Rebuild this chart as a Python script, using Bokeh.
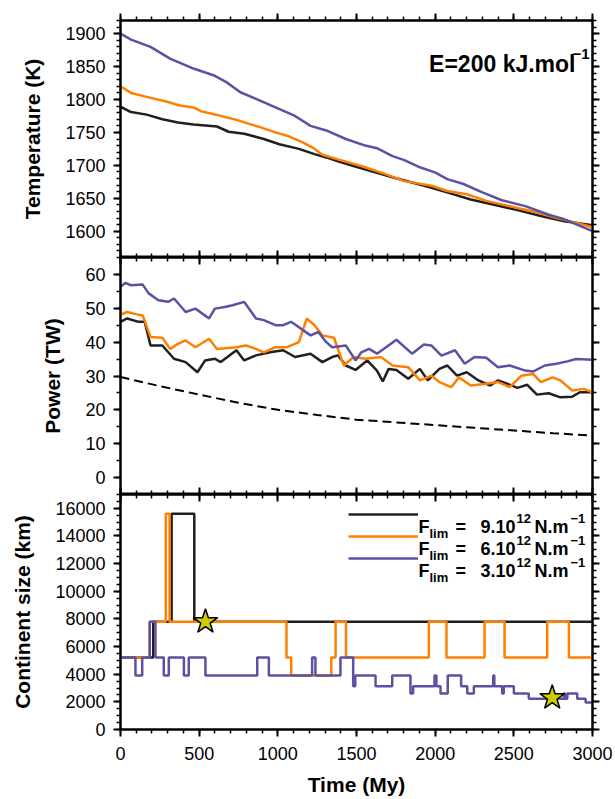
from bokeh.plotting import figure
from bokeh.models import LinearAxis, SingleIntervalTicker, Range1d, Label, Legend, LegendItem
from bokeh.layouts import column
from bokeh.embed import file_html
from bokeh.resources import INLINE

FONT = "Liberation Sans"
BLACK = "#231f20"
ORANGE = "#ff7f00"
PURPLE = "#5b52a3"
STAR = "#cccc00"

# --- temperature (K) ---
temp_black_t = [0, 67, 166, 266, 365, 464, 613, 687, 787, 911, 1010, 1134, 1233, 1308, 1382,
                1481, 1580, 1729, 1853, 1977, 2102, 2226, 2374, 2523, 2672, 2821, 3000]
temp_black = [1789, 1781, 1777, 1770, 1765, 1762, 1759, 1751, 1748, 1740, 1732, 1725, 1717, 1712, 1706,
              1699, 1692, 1682, 1674, 1666, 1657, 1648, 1640, 1632, 1623, 1615, 1609]
temp_orange_t = [0, 67, 166, 290, 377, 464, 514, 588, 737, 886, 985, 1059, 1159, 1221, 1283, 1382,
                 1531, 1680, 1804, 1977, 2077, 2201, 2325, 2474, 2622, 2771, 2895, 3000]
temp_orange = [1820, 1810, 1804, 1797, 1791, 1788, 1782, 1778, 1769, 1758, 1750, 1745, 1735, 1727, 1716, 1709,
               1699, 1687, 1676, 1669, 1661, 1656, 1646, 1638, 1630, 1620, 1613, 1606]
temp_purple_t = [0, 67, 191, 315, 464, 600, 675, 762, 861, 985, 1109, 1208, 1308, 1432, 1556, 1630,
                 1729, 1804, 1903, 2002, 2077, 2176, 2300, 2424, 2573, 2722, 2821, 2920, 3000]
temp_purple = [1900, 1891, 1880, 1862, 1847, 1836, 1826, 1811, 1801, 1788, 1775, 1760, 1753, 1740, 1730, 1726,
               1714, 1708, 1697, 1689, 1679, 1672, 1659, 1647, 1638, 1625, 1618, 1608, 1600]

# --- power (TW) ---
pow_black_t = [0, 42, 116, 154, 191, 266, 340, 414, 489, 538, 600, 637, 737, 786, 861, 960, 1034, 1109,
               1208, 1283, 1345, 1382, 1432, 1494, 1568, 1630, 1667, 1704, 1754, 1829, 1903, 1953, 2027,
               2077, 2139, 2201, 2275, 2350, 2399, 2449, 2523, 2585, 2647, 2722, 2796, 2871, 2920, 3000]
pow_black = [46, 47, 46, 46, 39, 39, 35.1, 34.1, 31.1, 34.6, 35.1, 34.1, 37.6, 34.6, 36.1, 37.1, 37.6, 35.6,
             36.6, 34.1, 35.6, 36.1, 33.1, 31.8, 34.6, 31.6, 28.4, 32.1, 31.8, 29.2, 32.1, 28.7, 32.1,
             33.1, 30.1, 31.1, 28.7, 27.2, 28.7, 27.9, 26.5, 27.4, 24.5, 24.9, 23.7, 23.9, 25.2, 25.2]
pow_orange_t = [0, 42, 104, 141, 191, 266, 315, 365, 414, 476, 563, 613, 737, 799, 861, 911, 985, 1059,
                1134, 1184, 1233, 1283, 1357, 1419, 1481, 1556, 1655, 1729, 1829, 1903, 1977, 2027, 2102,
                2151, 2226, 2325, 2399, 2474, 2548, 2622, 2672, 2746, 2796, 2871, 2945, 3000]
pow_orange = [48.1, 48.9, 48.2, 47.9, 41.5, 41.3, 38, 39.5, 40.5, 38.5, 41, 38, 38.5, 39, 38, 37, 38.5, 38.5,
              40, 47, 45, 42, 41.3, 33.1, 35.6, 35.1, 35.6, 33.1, 32.6, 28.7, 30.1, 28.2, 26.7,
              29.6, 27.2, 27.7, 28.2, 26.7, 30.1, 30.6, 28.2, 29.6, 28.7, 25.7, 26.2, 25.2]
pow_purple_t = [0, 30, 67, 141, 179, 241, 303, 340, 414, 476, 563, 600, 662, 712, 786, 861, 911, 985, 1034,
                1084, 1208, 1258, 1308, 1345, 1432, 1494, 1531, 1580, 1630, 1754, 1853, 1928, 1977, 2040,
                2126, 2188, 2250, 2325, 2399, 2474, 2573, 2622, 2697, 2771, 2846, 2895, 3000]
pow_purple = [56.3, 57.5, 56.8, 57, 54.4, 52.4, 51.9, 52.9, 48.9, 49.9, 47, 49.9, 50.4, 50.9, 51.9, 47, 46.5, 45, 45,
              46, 42, 43, 40, 38.5, 39, 34.6, 37, 38, 36.6, 40.7, 36.6, 39.3, 39, 36,
              37.6, 33.6, 35.6, 35.4, 32.6, 33.1, 31.6, 31.3, 33.1, 33.6, 34.4, 35, 34.8]
pow_ref_t = [0, 250, 500, 750, 1000, 1250, 1500, 1750, 2000, 2250, 2500, 2750, 3000]
pow_ref = [29.7, 27.0, 24.5, 22.1, 20.0, 18.5, 17.1, 16.3, 15.5, 14.7, 13.9, 13.1, 12.4]

# --- continent size (km), steps ---
size_black_t = [0, 208, 325, 469, 3000]
size_black = [5200, 7800, 15600, 7800, 7800]
size_orange_t = [0, 185, 288, 312, 1055, 1085, 1340, 1367, 1433, 1960, 2072, 2314, 2441, 2712, 2850, 3000]
size_orange = [5200, 7800, 15600, 7800, 5200, 3900, 5200, 7800, 5200, 7800, 5200, 7800, 5200, 7800, 5200, 5200]
size_purple_t = [0, 95, 138, 186, 222, 275, 307, 403, 434, 540, 869, 943, 1218, 1239, 1398, 1479, 1492,
                 1621, 1727, 1843, 1860, 1996, 2008, 2034, 2080, 2165, 2204, 2246, 2369, 2376, 2426, 2436,
                 2500, 2595, 2818, 2826, 2840, 2903, 2956, 3000]
size_purple = [5200, 3900, 5200, 7800, 5200, 3900, 5200, 3900, 5200, 3900, 5200, 3900, 5200, 3900, 5200, 3120, 3900,
               3120, 3900, 2600, 3120, 3900, 3120, 2600, 3900, 3120, 2600, 3120, 3900, 3120, 2600, 3120,
               2600, 2229, 2600, 2229, 2600, 2229, 1950, 1950]
star_t = [540, 2744]
star_size = [7800, 2300]

legend_values = ["9.10", "6.10", "3.10"]


def style_axis(ax, labels=True, inward=False):
    ax.axis_line_width = 2
    ax.axis_line_color = "black"
    ax.major_tick_line_width = 2
    ax.minor_tick_line_width = 1.5
    ax.major_tick_line_color = "black"
    ax.minor_tick_line_color = "black"
    if inward:
        ax.major_tick_in, ax.major_tick_out = 7, 0
        ax.minor_tick_in, ax.minor_tick_out = 4, 0
    else:
        ax.major_tick_in, ax.major_tick_out = 0, 7
        ax.minor_tick_in, ax.minor_tick_out = 0, 4
    if labels:
        ax.major_label_text_font = FONT
        ax.major_label_text_font_size = "18px"
        ax.major_label_text_color = "black"
    else:
        ax.major_label_text_font_size = "0px"
        ax.major_label_text_color = None
        ax.major_label_text_alpha = 0
        ax.major_label_standoff = 0


x_range = Range1d(0, 3000)
x_ticker = SingleIntervalTicker(interval=500, num_minor_ticks=5)


def panel(y0, y1, y_ticker, label, height, top, bottom, top_in, bottom_labels):
    p = figure(width=613, height=height, x_range=x_range, y_range=Range1d(y0, y1),
               output_backend="svg", toolbar_location=None,
               min_border_left=120, min_border_right=21, min_border_top=top, min_border_bottom=bottom)
    p.xgrid.visible = False
    p.ygrid.visible = False
    p.outline_line_color = "black"
    p.outline_line_width = 2

    bx = p.xaxis[0]
    bx.ticker = x_ticker
    style_axis(bx, labels=bottom_labels, inward=not bottom_labels)
    if bottom_labels:
        bx.major_label_standoff = 10
        bx.axis_label = "Time (My)"
        bx.axis_label_text_font = FONT
        bx.axis_label_text_font_style = "bold"
        bx.axis_label_text_font_size = "21px"
        bx.axis_label_text_color = "black"
        bx.axis_label_standoff = 10

    ly = p.yaxis[0]
    ly.ticker = y_ticker
    style_axis(ly)
    ly.major_label_standoff = 8
    ly.axis_label = label
    ly.axis_label_text_font = FONT
    ly.axis_label_text_font_style = "bold"
    ly.axis_label_text_font_size = "21px"
    ly.axis_label_text_color = "black"
    ly.axis_label_standoff = 18

    ax_top = LinearAxis(ticker=x_ticker)
    style_axis(ax_top, labels=False, inward=top_in)
    p.add_layout(ax_top, "above")
    ax_right = LinearAxis(ticker=y_ticker)
    style_axis(ax_right, labels=False)
    p.add_layout(ax_right, "right")
    return p


# temperature panel
p1 = panel(1560, 1920, SingleIntervalTicker(interval=50, num_minor_ticks=5), "Temperature (K)",
           257, 20, 0, False, False)
p1.line(temp_black_t, temp_black, color=BLACK, line_width=2.5)
p1.line(temp_orange_t, temp_orange, color=ORANGE, line_width=2.5)
p1.line(temp_purple_t, temp_purple, color=PURPLE, line_width=2.5)
p1.add_layout(Label(x=3000, y=1920, x_offset=-17, y_offset=-43, text="E=200 kJ.mol",
                    text_align="right", text_baseline="alphabetic", text_font=FONT, text_color="black",
                    text_font_style="bold", text_font_size="23px"))
p1.add_layout(Label(x=3000, y=1920, x_offset=-3, y_offset=-33, text="\u22121",
                    text_align="right", text_baseline="alphabetic", text_font=FONT, text_color="black",
                    text_font_style="bold", text_font_size="15px"))

# power panel
p2 = panel(-5, 65, SingleIntervalTicker(interval=10, num_minor_ticks=2), "Power (TW)",
           237, 0, 0, True, False)
p2.line(pow_ref_t, pow_ref, color="black", line_width=2, line_dash="9 5")
p2.line(pow_black_t, pow_black, color=BLACK, line_width=2.5)
p2.line(pow_orange_t, pow_orange, color=ORANGE, line_width=2.5)
p2.line(pow_purple_t, pow_purple, color=PURPLE, line_width=2.5)

# continent size panel
p3 = panel(0, 17000, SingleIntervalTicker(interval=2000, num_minor_ticks=4), "Continent size (km)",
           304, 0, 60, True, True)
rb = p3.step(size_black_t, size_black, mode="after", color=BLACK, line_width=2.5)
ro = p3.step(size_orange_t, size_orange, mode="after", color=ORANGE, line_width=2.5)
rp = p3.step(size_purple_t, size_purple, mode="after", color=PURPLE, line_width=2.5)
p3.scatter(star_t, star_size, marker="star", size=26, fill_color=STAR, line_color="black", line_width=1.5)

legend = Legend(items=[LegendItem(label=" ", renderers=[r]) for r in (rb, ro, rp)],
                location=(228, 161), glyph_width=70, glyph_height=20, label_height=20,
                label_width=0, label_standoff=0, spacing=2, padding=0, margin=0,
                label_text_font_size="8px", border_line_alpha=0, background_fill_alpha=0)
p3.add_layout(legend)

# legend texts (F_lim = n.10^12 N.m^-1), pieces placed from the frame's top-right corner
for i, v in enumerate(legend_values):
    base = -32 - 22 * i
    pieces = [("F", -174, base, "18px"), ("lim", -163, base - 7, "13px"), ("=", -137, base, "18px"),
              (v, -112, base, "18px"), ("12", -76, base + 8, "13px"), ("N.m", -58, base, "18px"),
              ("\u22121", -22, base + 8, "13px")]
    for txt, dx, dy, fs in pieces:
        p3.add_layout(Label(x=3000, y=17000, x_offset=dx, y_offset=dy, text=txt, text_align="left",
                            text_baseline="alphabetic", text_font=FONT, text_font_style="bold",
                            text_color="black", text_font_size=fs))

p = column(p1, p2, p3)
open("out.html", "w").write(file_html(p, INLINE))
